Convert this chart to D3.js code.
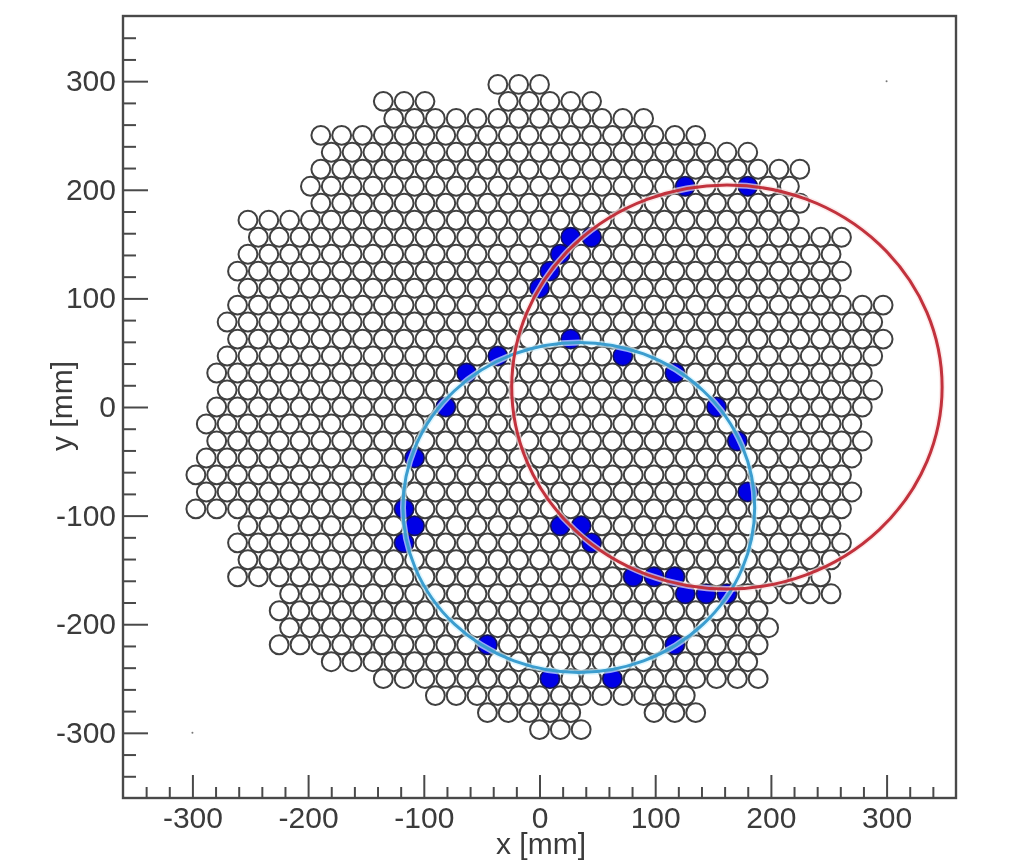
<!DOCTYPE html>
<html>
<head>
<meta charset="utf-8">
<script src="https://cdn.jsdelivr.net/npm/d3@7"></script>
<style>
  html, body { margin: 0; background: #fff; overflow: hidden; }
  text { font-family: "Liberation Sans", Arial, sans-serif; fill: #3a3a3a; }
</style>
</head>
<body>
<div id="chart"></div>
<script>
// Tube rows, top to bottom: y of the row in mm, and the x of each tube in that row
const ROW_Y = [
  297, 281.4, 265.7, 250.1, 234.5, 218.9, 203.2, 187.6, 172, 156.3, 140.7, 125.1, 109.4, 93.8,
  78.2, 62.5, 46.9, 31.3, 15.6, 0, -15.6, -31.3, -46.9, -62.5, -78.2, -93.8, -109.4, -125.1,
  -140.7, -156.3, -172, -187.6, -203.2, -218.9, -234.5, -250.1, -265.7, -281.4, -297,
];
const ROW_X = [
  [-36,-18,0],
  [-135,-117,-99,-27,-9,9,27,45],
  [-126,-108,-90,-72,-54,-36,-18,0,18,36,54,72,90],
  [-189,-171,-153,-135,-117,-99,-81,-63,-45,-27,-9,9,27,45,63,81,99,117,135],
  [-180,-162,-144,-126,-108,-90,-72,-54,-36,-18,0,18,36,54,72,90,108,126,144,162,180],
  [-189,-171,-153,-135,-117,-99,-81,-63,-45,-27,-9,9,27,45,63,81,99,117,135,153,171,189,207,225],
  [-198,-180,-162,-144,-126,-108,-90,-72,-54,-36,-18,0,18,36,54,72,90,108,126,144,162,180,198,216],
  [-189,-171,-153,-135,-117,-99,-81,-63,-45,-27,-9,9,27,45,63,81,99,117,135,153,171,189,207,225],
  [-252,-234,-216,-198,-180,-162,-144,-126,-108,-90,-72,-54,-36,-18,0,18,36,54,72,90,108,126,144,162,180,198,216],
  [-243,-225,-207,-189,-171,-153,-135,-117,-99,-81,-63,-45,-27,-9,9,27,45,63,81,99,117,135,153,171,189,207,225,243,261],
  [-252,-234,-216,-198,-180,-162,-144,-126,-108,-90,-72,-54,-36,-18,0,18,36,54,72,90,108,126,144,162,180,198,216,234,252],
  [-261,-243,-225,-207,-189,-171,-153,-135,-117,-99,-81,-63,-45,-27,-9,9,27,45,63,81,99,117,135,153,171,189,207,225,243,261],
  [-252,-234,-216,-198,-180,-162,-144,-126,-108,-90,-72,-54,-36,-18,0,18,36,54,72,90,108,126,144,162,180,198,216,234,252],
  [-261,-243,-225,-207,-189,-171,-153,-135,-117,-99,-81,-63,-45,-27,-9,9,27,45,63,81,99,117,135,153,171,189,207,225,243,261,279,297],
  [-270,-252,-234,-216,-198,-180,-162,-144,-126,-108,-90,-72,-54,-36,-18,0,18,36,54,72,90,108,126,144,162,180,198,216,234,252,270,288],
  [-261,-243,-225,-207,-189,-171,-153,-135,-117,-99,-81,-63,-45,-27,-9,9,27,45,63,81,99,117,135,153,171,189,207,225,243,261,279,297],
  [-270,-252,-234,-216,-198,-180,-162,-144,-126,-108,-90,-72,-54,-36,-18,0,18,36,54,72,90,108,126,144,162,180,198,216,234,252,270,288],
  [-279,-261,-243,-225,-207,-189,-171,-153,-135,-117,-99,-81,-63,-45,-27,-9,9,27,45,63,81,99,117,135,153,171,189,207,225,243,261,279],
  [-270,-252,-234,-216,-198,-180,-162,-144,-126,-108,-90,-72,-54,-36,-18,0,18,36,54,72,90,108,126,144,162,180,198,216,234,252,270,288],
  [-279,-261,-243,-225,-207,-189,-171,-153,-135,-117,-99,-81,-63,-45,-27,-9,9,27,45,63,81,99,117,135,153,171,189,207,225,243,261,279],
  [-288,-270,-252,-234,-216,-198,-180,-162,-144,-126,-108,-90,-72,-54,-36,-18,0,18,36,54,72,90,108,126,144,162,180,198,216,234,252,270],
  [-279,-261,-243,-225,-207,-189,-171,-153,-135,-117,-99,-81,-63,-45,-27,-9,9,27,45,63,81,99,117,135,153,171,189,207,225,243,261,279],
  [-288,-270,-252,-234,-216,-198,-180,-162,-144,-126,-108,-90,-72,-54,-36,-18,0,18,36,54,72,90,108,126,144,162,180,198,216,234,252,270],
  [-297,-279,-261,-243,-225,-207,-189,-171,-153,-135,-117,-99,-81,-63,-45,-27,-9,9,27,45,63,81,99,117,135,153,171,189,207,225,243,261],
  [-288,-270,-252,-234,-216,-198,-180,-162,-144,-126,-108,-90,-72,-54,-36,-18,0,18,36,54,72,90,108,126,144,162,180,198,216,234,252,270],
  [-297,-279,-261,-243,-225,-207,-189,-171,-153,-135,-117,-99,-81,-63,-45,-27,-9,9,27,45,63,81,99,117,135,153,171,189,207,225,243,261],
  [-252,-234,-216,-198,-180,-162,-144,-126,-108,-90,-72,-54,-36,-18,0,18,36,54,72,90,108,126,144,162,180,198,216,234,252],
  [-261,-243,-225,-207,-189,-171,-153,-135,-117,-99,-81,-63,-45,-27,-9,9,27,45,63,81,99,117,135,153,171,189,207,225,243,261],
  [-252,-234,-216,-198,-180,-162,-144,-126,-108,-90,-72,-54,-36,-18,0,18,36,54,72,90,108,126,144,162,180,198,216,234,252],
  [-261,-243,-225,-207,-189,-171,-153,-135,-117,-99,-81,-63,-45,-27,-9,9,27,45,63,81,99,117,135,153,171,189,207,225,243],
  [-216,-198,-180,-162,-144,-126,-108,-90,-72,-54,-36,-18,0,18,36,54,72,90,108,126,144,162,180,198,216,234,252],
  [-225,-207,-189,-171,-153,-135,-117,-99,-81,-63,-45,-27,-9,9,27,45,63,81,99,117,135,153,171,189],
  [-216,-198,-180,-162,-144,-126,-108,-90,-72,-54,-36,-18,0,18,36,54,72,90,108,126,144,162,180,198],
  [-225,-207,-189,-171,-153,-135,-117,-99,-81,-63,-45,-27,-9,9,27,45,63,81,99,117,135,153,171,189],
  [-180,-162,-144,-126,-108,-90,-72,-54,-36,-18,0,18,36,54,72,90,108,126,144,162,180],
  [-135,-117,-99,-81,-63,-45,-27,-9,9,27,45,63,81,99,117,135,153,171,189],
  [-90,-72,-54,-36,-18,0,18,36,54,72,90,108,126],
  [-45,-27,-9,9,27,99,117,135],
  [0,18,36],
];

// Tubes that fired
const HIT_X = [126,180,27,45,18,9,0,-36,-63,-81,-108,-117,-108,-117,18,36,45,27,72,117,153,171,180,81,99,117,126,144,162,117,-45,9,63];
const HIT_Y = [203.2,203.2,156.3,156.3,140.7,125.1,109.4,46.9,31.3,0,-46.9,-93.8,-109.4,-125.1,-109.4,-109.4,-125.1,62.5,46.9,31.3,0,-31.3,-78.2,-156.3,-156.3,-156.3,-172,-172,-172,-218.9,-218.9,-250.1,-250.1];

// Fitted rings: centre x, centre y, radius (mm)
const RING_NAMES = ["blue", "red"];
const RING_CX = [34, 162];
const RING_CY = [-92.5, 18.4];
const RING_R = [152, 186];

// Stray specks in the frame
const SPECK_X = [300, -300];
const SPECK_Y = [300, -300];

const MAJOR_TICKS = [-300, -200, -100, 0, 100, 200, 300];
const MINOR_TICKS = [-340, -320, -280, -260, -240, -220, -180, -160, -140, -120, -80, -60, -40, -20,
  20, 40, 60, 80, 120, 140, 160, 180, 220, 240, 260, 280, 320, 340];

const WIDTH = 1018,
  HEIGHT = 861;
const FRAME = { left: 123, right: 956, top: 16, bottom: 798 };
// the picture is stretched a bit in x, these keep the tubes round on screen
const TUBE_RADIUS_X = 8.15,
  TUBE_RADIUS_Y = 8.7;
const COLORS = {
  text: "#3a3a3a",
  frame: "#4a4a4a",
  tube: "#404040",
  hit: "#0000e6",
  blue: "#3b9dcf",
  blueHalo: "#d2f3ff",
  red: "#c2323c",
  redHalo: "#fbe3e3",
};

const x = d3.scaleLinear().domain([-360, 360]).range([FRAME.left, FRAME.right]);
const y = d3.scaleLinear().domain([-360, 360]).range([FRAME.bottom, FRAME.top]);
const rx = (r) => x(r) - x(0);
const ry = (r) => y(0) - y(r);

const svg = d3
  .select("#chart")
  .append("svg")
  .attr("width", WIDTH)
  .attr("height", HEIGHT)
  .style("display", "block");

// the source is a soft scan, a very light blur gets the same look
const defs = svg.append("defs");
defs
  .append("filter")
  .attr("id", "soft")
  .append("feGaussianBlur")
  .attr("stdDeviation", 0.45);

const plot = svg.append("g").attr("filter", "url(#soft)");

// Tubes
const tubes = ROW_Y.flatMap((rowY, i) => ROW_X[i].map((tubeX) => ({ x: tubeX, y: rowY })));
plot
  .selectAll(".tube")
  .data(tubes)
  .enter()
  .append("ellipse")
  .classed("tube", true)
  .attr("cx", (d) => x(d.x))
  .attr("cy", (d) => y(d.y))
  .attr("rx", rx(TUBE_RADIUS_X))
  .attr("ry", ry(TUBE_RADIUS_Y))
  .attr("fill", "#fff")
  .attr("stroke", COLORS.tube)
  .attr("stroke-width", 2);

// Hits
plot
  .selectAll(".hit")
  .data(HIT_X.map((hitX, i) => ({ x: hitX, y: HIT_Y[i] })))
  .enter()
  .append("ellipse")
  .classed("hit", true)
  .attr("cx", (d) => x(d.x))
  .attr("cy", (d) => y(d.y))
  .attr("rx", rx(TUBE_RADIUS_X))
  .attr("ry", ry(TUBE_RADIUS_Y))
  .attr("fill", COLORS.hit)
  .attr("stroke", "#10106a")
  .attr("stroke-width", 1.4);

// Rings, halo first then the line
const rings = RING_NAMES.map((name, i) => ({ name, cx: RING_CX[i], cy: RING_CY[i], r: RING_R[i] }));
[
  { suffix: "Halo", width: 6 },
  { suffix: "", width: 3 },
].forEach((pass) => {
  plot
    .selectAll(`.ring${pass.suffix}`)
    .data(rings)
    .enter()
    .append("ellipse")
    .classed(`ring${pass.suffix}`, true)
    .attr("cx", (d) => x(d.cx))
    .attr("cy", (d) => y(d.cy))
    .attr("rx", (d) => rx(d.r))
    .attr("ry", (d) => ry(d.r))
    .attr("fill", "none")
    .attr("stroke", (d) => COLORS[d.name + pass.suffix])
    .attr("stroke-opacity", pass.suffix ? 0.7 : 1)
    .attr("stroke-width", pass.width);
});

plot
  .selectAll(".speck")
  .data(SPECK_X.map((speckX, i) => ({ x: speckX, y: SPECK_Y[i] })))
  .enter()
  .append("circle")
  .classed("speck", true)
  .attr("cx", (d) => x(d.x))
  .attr("cy", (d) => y(d.y))
  .attr("r", 1)
  .attr("fill", "#777");

// Axes
const axes = svg.append("g").attr("filter", "url(#soft)");

function drawAxis(axis, transform, showLabels) {
  const g = axes.append("g").attr("transform", transform).call(axis);
  g.select(".domain").remove();
  g.selectAll("line").attr("stroke", COLORS.frame).attr("stroke-width", 2);
  if (showLabels) {
    g.selectAll("text").attr("font-size", 30).attr("fill", COLORS.text);
  } else {
    g.selectAll("text").remove();
  }
  return g;
}

drawAxis(
  d3.axisBottom(x).tickValues(MINOR_TICKS).tickSize(-11),
  `translate(0,${FRAME.bottom})`,
  false
);
drawAxis(
  d3.axisLeft(y).tickValues(MINOR_TICKS).tickSize(-13),
  `translate(${FRAME.left},0)`,
  false
);
const xMajor = drawAxis(
  d3.axisBottom(x).tickValues(MAJOR_TICKS).tickSize(-23).tickPadding(9).tickFormat(d3.format("d")),
  `translate(0,${FRAME.bottom})`,
  true
);
const yMajor = drawAxis(
  d3.axisLeft(y).tickValues(MAJOR_TICKS).tickSize(-25).tickPadding(7).tickFormat(d3.format("d")),
  `translate(${FRAME.left},0)`,
  true
);
// d3 writes a unicode minus, the picture has a plain hyphen
xMajor.selectAll("text").text((d) => String(d));
yMajor.selectAll("text").text((d) => String(d));

axes
  .append("rect")
  .attr("x", FRAME.left)
  .attr("y", FRAME.top)
  .attr("width", FRAME.right - FRAME.left)
  .attr("height", FRAME.bottom - FRAME.top)
  .attr("fill", "none")
  .attr("stroke", COLORS.frame)
  .attr("stroke-width", 2.4);

svg
  .append("text")
  .attr("x", 541)
  .attr("y", 854)
  .attr("text-anchor", "middle")
  .attr("font-size", 30)
  .text("x [mm]");

svg
  .append("text")
  .attr("transform", "translate(72,406) rotate(-90)")
  .attr("text-anchor", "middle")
  .attr("font-size", 30)
  .text("y [mm]");
</script>
</body>
</html>
